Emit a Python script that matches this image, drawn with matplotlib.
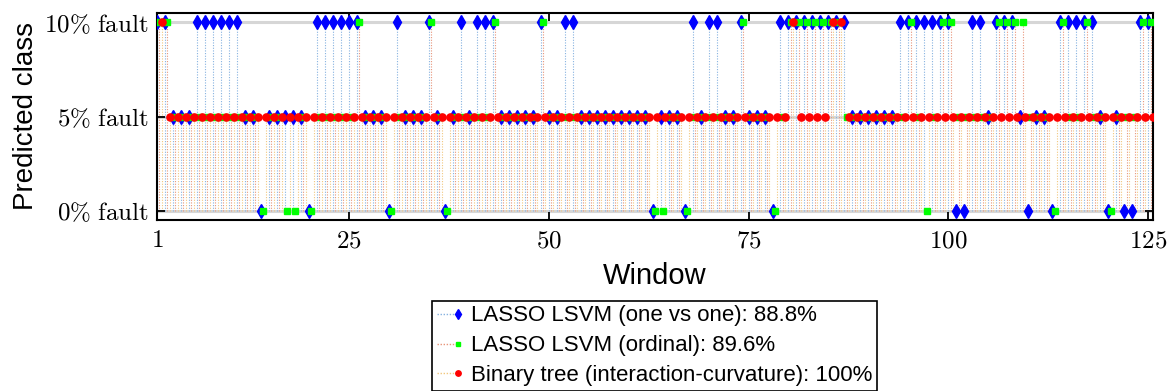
import matplotlib
matplotlib.use('Agg')
import matplotlib.pyplot as plt
from matplotlib.lines import Line2D
from matplotlib.legend_handler import HandlerLine2D
import numpy as np

# window index on the x axis
windows = list(range(1, 126))
x_ticks = [1, 25, 50, 75, 100, 125]
class_labels = [r'$0\%\ \mathrm{fault}$', r'$5\%\ \mathrm{fault}$', r'$10\%\ \mathrm{fault}$']

# predicted class per window: 0 = 0% fault, 1 = 5% fault, 2 = 10% fault
pred_ovo = [2,2,1,1,1,2,2,2,2,2,2,1,1,0,1,1,1,1,1,0,2,2,2,2,2,
            2,1,1,1,0,2,1,1,1,2,1,0,1,2,1,2,2,2,1,1,1,1,1,2,1,
            1,2,2,1,1,1,1,1,1,1,1,1,0,1,1,1,0,2,1,2,2,1,1,2,1,
            1,1,0,2,2,2,2,2,2,2,2,2,1,1,1,1,1,1,2,2,2,2,2,2,2,
            0,0,2,2,1,2,2,2,1,0,1,1,0,2,2,2,2,2,1,0,1,0,0,2,2]

pred_ordinal = [2,2,1,1,1,1,1,1,1,1,1,1,1,0,1,1,0,0,1,0,1,1,1,1,1,
                2,1,1,1,0,1,1,1,1,2,1,0,1,1,1,1,1,2,1,1,1,1,1,2,1,
                1,1,1,1,1,1,1,1,1,1,1,1,0,0,1,1,0,1,1,1,1,1,1,2,1,
                1,1,0,1,2,2,2,2,2,2,2,1,1,1,1,1,1,1,1,2,1,0,1,2,2,
                1,1,1,1,1,2,2,2,2,1,1,1,0,2,1,1,2,1,1,0,1,1,1,2,2]

pred_tree = [2,1,1,1,1,1,1,1,1,1,1,1,1,1,1,1,1,1,1,1,1,1,1,1,1,
             1,1,1,1,1,1,1,1,1,1,1,1,1,1,1,1,1,1,1,1,1,1,1,1,1,
             1,1,1,1,1,1,1,1,1,1,1,1,1,1,1,1,1,1,1,1,1,1,1,1,1,
             1,1,1,1,2,1,1,1,1,2,2,1,1,1,1,1,1,1,1,1,1,1,1,1,1,
             1,1,1,1,1,1,1,1,1,1,1,1,1,1,1,1,1,1,1,1,1,1,1,1,1]

series_names = ['LASSO LSVM (one vs one): 88.8%',
                'LASSO LSVM (ordinal): 89.6%',
                'Binary tree (interaction-curvature): 100%']


class StemHandler(HandlerLine2D):
    '''legend entry like matlab stem: dotted line, marker at the right end'''
    def create_artists(self, *args, **kwargs):
        arts = super().create_artists(*args, **kwargs)
        arts[0].set_markevery([2])
        return arts


plt.rcParams['font.family'] = ['Liberation Sans', 'DejaVu Sans']
plt.rcParams['mathtext.fontset'] = 'cm'

W, H = 1173, 391
fig = plt.figure(figsize=(W / 100, H / 100), dpi=100)
ax = fig.add_axes([157 / W, 1 - 220 / H, (1153 - 157) / W, (220 - 13) / H])

for yv in range(3):
    ax.axhline(yv, color='#d6d6d6', lw=2.2, zorder=0)

# offset, stem colour, marker, marker colour, marker size
styles = [
    (0.0, '#86b2e0', 'd', (0, 0, 1), 7.0),
    (0.3, '#e8957a', 's', (0, 1, 0), 4.8),
    (0.6, '#f1c77f', 'o', (1, 0, 0), 5.2),
]
handles = []
for preds, (off, stem_c, mk, mc, ms) in zip([pred_ovo, pred_ordinal, pred_tree], styles):
    xs = np.array(windows) + off
    ys = np.array(preds)
    ax.vlines(xs, 0, ys, colors=stem_c, linestyles=(0, (1, 1.4)), lw=0.8, zorder=1)
    ax.plot(xs, ys, ls='none', marker=mk, mfc=mc, mec=mc, ms=ms, zorder=3)
    handles.append(Line2D([], [], color=stem_c, ls=(0, (1, 1.2)), lw=1.0,
                          marker=mk, mfc=mc, mec=mc, ms=ms * 0.75))

ax.set_xlim(1, 125.6)
ax.set_ylim(-0.1, 2.1)
ax.set_xticks(x_ticks)
ax.set_xticklabels([r'$%d$' % t for t in x_ticks], fontsize=18)
ax.set_yticks([0, 1, 2])
ax.set_yticklabels(class_labels, fontsize=18)
ax.tick_params(direction='in', top=True, right=True, length=6, width=1.3, pad=6)
for sp in ax.spines.values():
    sp.set_linewidth(1.5)

fig.text(26 / W, 1 - 116 / H, 'Predicted class', rotation=90, ha='center', va='center', fontsize=20)
fig.text(655 / W, 1 - 276 / H, 'Window', ha='center', va='center', fontsize=21)

leg = fig.legend(handles, series_names, loc='upper center',
                 bbox_to_anchor=(654.5 / W, 1 - 301 / H), fancybox=False,
                 edgecolor='black', fontsize=16, numpoints=1,
                 handler_map={Line2D: StemHandler()}, handlelength=0.95,
                 handletextpad=0.6, borderpad=0.2, labelspacing=0.4,
                 borderaxespad=0, framealpha=1)
leg.get_frame().set_linewidth(1.2)

fig.savefig('out.png', dpi=100)
